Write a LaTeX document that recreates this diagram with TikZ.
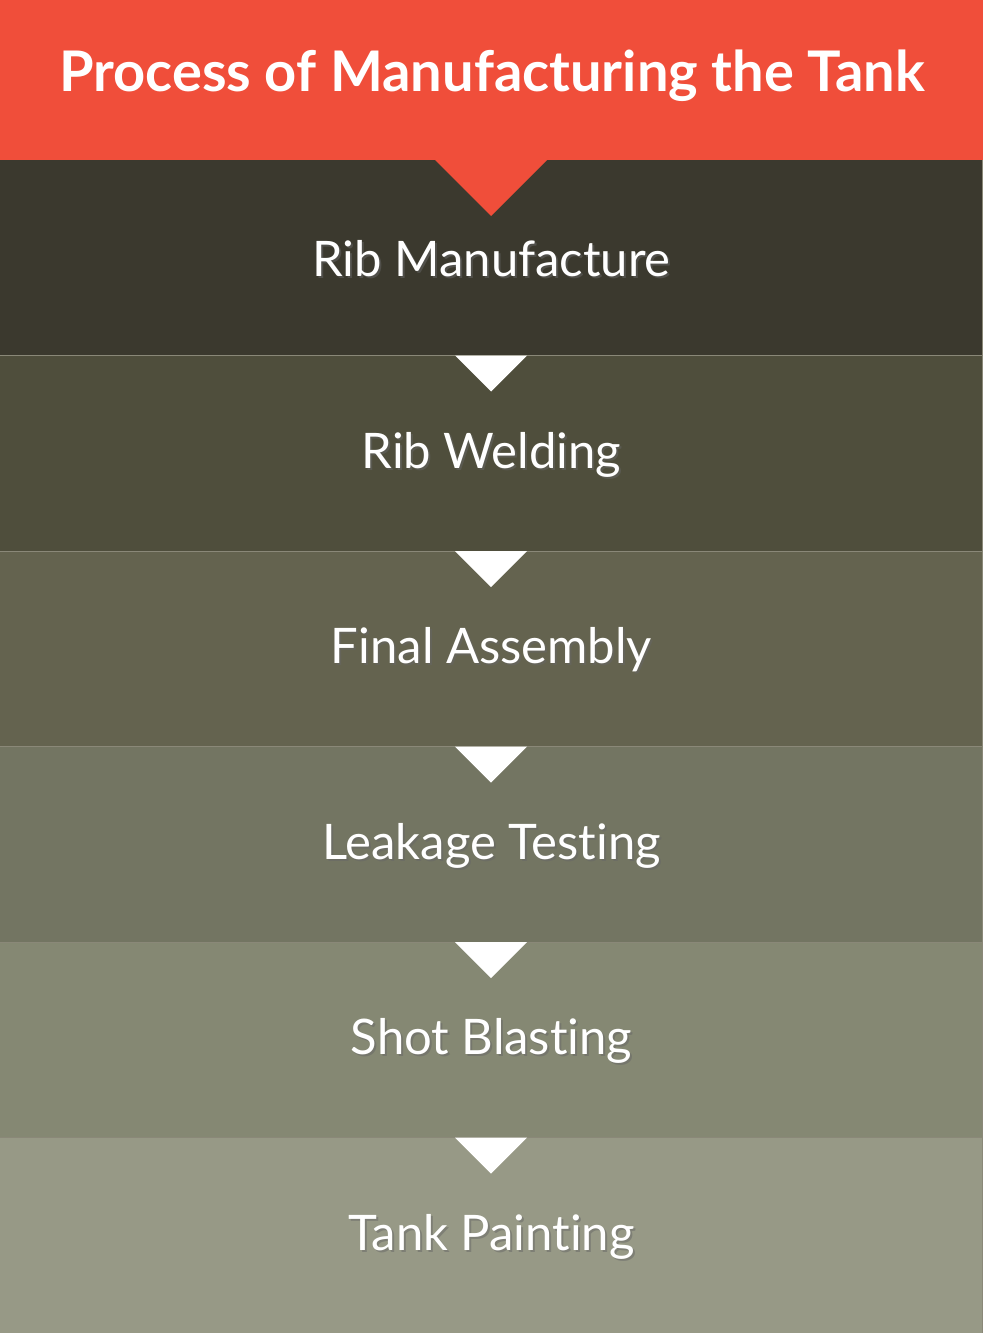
\documentclass[tikz,border=0pt]{standalone}
\usepackage{fontspec}
\setmainfont[Ligatures={NoCommon}]{Lato}
\definecolor{hdr}{HTML}{F04E3A}
\definecolor{b1}{HTML}{3B392E}
\definecolor{b2}{HTML}{4F4E3C}
\definecolor{b3}{HTML}{64634F}
\definecolor{b4}{HTML}{737562}
\definecolor{b5}{HTML}{858873}
\definecolor{b6}{HTML}{979986}
\definecolor{sep}{HTML}{8A8878}
\begin{document}
\begin{tikzpicture}[x=1pt,y=-1pt,
  bandtext/.style={text=white,font=\fontsize{49}{60}\selectfont,inner sep=0pt},
  shadowtext/.style={text=black!60,opacity=0.5,font=\fontsize{49}{60}\selectfont,inner sep=0pt},
  arrowtri/.style={fill=white,draw=none}]
\useasboundingbox (0,0) rectangle (983,1333);
% header
\fill[hdr] (0,0) rectangle (983,161);
% bands
\foreach \c [count=\i from 0] in {b1,b2,b3,b4,b5,b6}{
  \fill[\c] (0,{160+\i*195.5}) rectangle (983,{160+(\i+1)*195.5});
}
\foreach \i in {1,...,5}{
  \draw[sep,line width=1pt] (0,{160+\i*195.5}) -- (983,{160+\i*195.5});
}
\draw[sep,line width=1pt] (982.5,160) -- (982.5,1333);
% red triangle
\fill[hdr] (435,160) -- (547,160) -- (491,216) -- cycle;
% white triangles
\foreach \i in {1,...,5}{
  \fill[arrowtri] (455,{160+\i*195.5}) -- (527,{160+\i*195.5}) -- (491,{160+\i*195.5+36}) -- cycle;
}
% title
\node[text=white,font=\fontsize{56}{66}\selectfont\bfseries,inner sep=0pt] (title) at (492,76) {Process of Manufacturing the Tank};
% texts
\foreach \t [count=\i from 0] in {Rib Manufacture,Rib Welding,Final Assembly,Leakage Testing,Shot Blasting,Tank Painting}{
  \node[shadowtext] at (493.5,{261+\i*195.5}) {\t};
  \node[bandtext] (s\i) at (491.5,{259+\i*195.5}) {\t};
}
\end{tikzpicture}
\end{document}
